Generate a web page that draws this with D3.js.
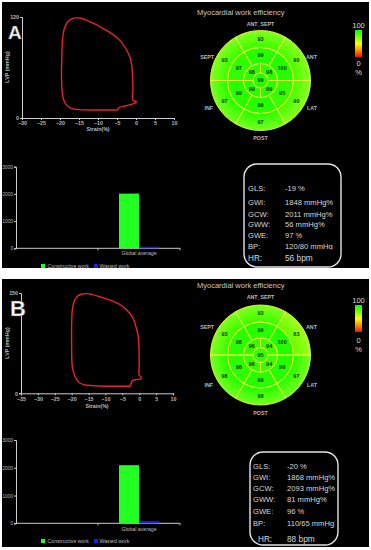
<!DOCTYPE html>
<html><head><meta charset="utf-8">
<script src="https://cdn.jsdelivr.net/npm/d3@7"></script>
<style>body{margin:0;background:#fff}svg{display:block}text{font-family:"Liberation Sans",Arial,sans-serif}</style>
</head><body><svg id="c" width="371" height="550"></svg>
<script>
// ---------- DATA ----------
const strainTicksA = [-30,-25,-20,-15,-10,-5,0,5,10];
const strainTicksB = [-35,-30,-25,-20,-15,-10,-5,0,5,10];
const lvpTicksA = [0,120];
const lvpTicksB = [0,150];
const loopAStrain   = [-4.8,-4.6,-4.2,-2.5,-1,0,0.1,-0.8,-0.8,-0.9,-1.1,-1.6,-2.6,-4,-6,-8.5,-11,-13,-14.5,-15.5,-16.8,-18,-18.8,-19.3,-19.5,-19.6,-19.4,-19,-18.2,-17,-15,-10,-4.8];
const loopAPressure = [9.5,12,13,14.5,16.5,18.5,19.5,21,35,50,62,72,82,91,99,106,112,116,118.5,119,118,114,107,95,75,50,30,21,15,11.5,10,9.5,9.5];
const loopBStrain   = [-2.7,-2.4,-2,-1,0.6,0.5,0,0,-0.1,-0.3,-0.9,-1.8,-3.2,-5.5,-8.5,-11.5,-14,-15.5,-17,-18.3,-19.3,-19.8,-20,-20,-19.9,-19.5,-18.7,-17.5,-15.5,-12,-7,-2.7];
const loopBPressure = [10.5,15,19,20.5,22,25,27,45,70,85,98,112,122,132,139,144,148,149,148.5,145,137,125,105,70,45,32,22,15,12,11,10.5,10.5];

// segments ordered clockwise from top: ANT_SEPT, ANT, LAT, POST, INF, SEPT
const basalA = [93,90,90,97,97,93];
const midA   = [99,100,95,99,99,97];
const apicalA = [98,99,99,98]; // upper-right, lower-right, lower-left, upper-left
const apexA = 99;
const basalB = [93,83,97,98,98,93];
const midB   = [99,100,99,99,98,98];
const apicalB = [94,94,96,96];
const apexB = 95;
const wallLabels = ["ANT_SEPT","ANT","LAT","POST","INF","SEPT"];

const barCategories = ["", "Global average"];
const barSeries = ["Constructive work","Wasted work"];
const constructiveA = 2011, wastedA = 56;
const constructiveB = 2093, wastedB = 81;
const workTicks = [0,1000,2000,3000];

const infoLabels = ["GLS:","GWI:","GCW:","GWW:","GWE:","BP:","HR:"];
const infoA = ["-19 %","1848 mmHg%","2011 mmHg%","56 mmHg%","97 %","120/80 mmHg","56 bpm"];
const infoB = ["-20 %","1868 mmHg%","2093 mmHg%","81 mmHg%","96 %","110/65 mmHg","88 bpm"];

// ---------- DRAW ----------
const svg = d3.select("#c");
const defs = svg.append("defs");
const cbg = defs.append("linearGradient").attr("id","cbar").attr("x1",0).attr("y1",0).attr("x2",0).attr("y2",1);
[["0%","#00ff00"],["35%","#aaff00"],["50%","#ffff00"],["75%","#ff9000"],["100%","#ff1000"]].forEach(s=>cbg.append("stop").attr("offset",s[0]).attr("stop-color",s[1]));
const rg = defs.append("radialGradient").attr("id","rim");
[["0%","#ffff60",0],["70%","#ffff60",0],["100%","#ffff60",0.35]].forEach(s=>rg.append("stop").attr("offset",s[0]).attr("stop-color",s[1]).attr("stop-opacity",s[2]));

const segColor = d3.scaleLinear().domain([0,50,100]).range(["#ff1000","#ffff00","#22ff00"]);
const lightText = "#d8d8d8";

const panels = [
 {id:"A", top:2, bottom:268, letter:"A", letterX:8, letterY:39, letterSize:19,
  loopStrain:loopAStrain, loopPressure:loopAPressure, sTicks:strainTicksA, pTicks:lvpTicksA,
  lx:[22,174], ly:[118,17], xLabelY:131, yLabelY:67,
  basal:basalA, mid:midA, apical:apicalA, apex:apexA, cx:260.5, cy:80.5,
  titleY:12, antSeptY:24, upperY:57, lowerY:108, postY:138,
  cbY:[30,57], c100:25, c0:63, cPct:72,
  bx:[16,180], by:[248.3,166.7], gaY:253, legY:266, cons:constructiveA, wast:wastedA,
  box:[244,164,97,103], labX:248, hrLabX:248, valX:285, rows:[188.3,202.3,214,224.3,235,246.7,258.3], info:infoA, bpClip:249.5},
 {id:"B", top:279, bottom:547, letter:"B", letterX:10, letterY:316, letterSize:22,
  loopStrain:loopBStrain, loopPressure:loopBPressure, sTicks:strainTicksB, pTicks:lvpTicksB,
  lx:[21,173], ly:[393.3,293], xLabelY:408, yLabelY:343,
  basal:basalB, mid:midB, apical:apicalB, apex:apexB, cx:260.5, cy:355,
  titleY:285, antSeptY:297, upperY:327, lowerY:385, postY:413,
  cbY:[305,332], c100:300, c0:340, cPct:349,
  bx:[16,180], by:[523.3,440], gaY:529.5, legY:541, cons:constructiveB, wast:wastedB,
  box:[250,452,88,93], labX:253, hrLabX:258, valX:287, rows:[466,477,488,499,511,523,539], info:infoB, bpClip:null}
];

panels.forEach(p=>{
  defs.append("clipPath").attr("id","clip"+p.id).append("rect").attr("x",2).attr("y",p.top).attr("width",367).attr("height",p.bottom-p.top);
  const g = svg.append("g").attr("clip-path",`url(#clip${p.id})`);
  g.append("rect").attr("x",2).attr("y",p.top).attr("width",367).attr("height",p.bottom-p.top).attr("fill","#000");

  // ---- loop ----
  const x = d3.scaleLinear().domain([p.sTicks[0], p.sTicks[p.sTicks.length-1]]).range(p.lx);
  const y = d3.scaleLinear().domain([0, p.pTicks[1]]).range(p.ly);
  const ax = g.append("g").attr("transform",`translate(0,${p.ly[0]})`).call(d3.axisBottom(x).tickValues(p.sTicks).tickSize(2).tickPadding(1.5));
  const ay = g.append("g").attr("transform",`translate(${p.lx[0]},0)`).call(d3.axisLeft(y).tickValues(p.pTicks).tickSize(2).tickPadding(1));
  [ax,ay].forEach(a=>{a.select(".domain").attr("stroke","#ccc");a.selectAll("line").attr("stroke","#ccc");a.selectAll("text").attr("fill","#bbb").attr("font-size",5.3).attr("font-weight","bold");});
  g.append("text").attr("x",(p.lx[0]+p.lx[1])/2).attr("y",p.xLabelY).attr("text-anchor","middle").attr("fill","#bbb").attr("font-size",5.3).attr("font-weight","bold").text("Strain(%)");
  g.append("text").attr("transform",`translate(9,${p.yLabelY}) rotate(-90)`).attr("text-anchor","middle").attr("fill","#bbb").attr("font-size",5.3).attr("font-weight","bold").text("LVP (mmHg)");
  const pts = p.loopStrain.map((s,i)=>[s,p.loopPressure[i]]);
  g.append("path").attr("d",d3.line().x(d=>x(d[0])).y(d=>y(d[1])).curve(d3.curveCatmullRom.alpha(0.5))(pts))
    .attr("fill","none").attr("stroke","#e3262a").attr("stroke-width",1.4);
  g.append("text").attr("x",p.letterX).attr("y",p.letterY).attr("fill","#fff").attr("stroke","#555").attr("stroke-width",0.6)
    .attr("font-size",p.letterSize).attr("font-weight","bold").text(p.letter);

  // ---- bullseye ----
  const R = [0,7.5,17,33,50];
  const bg = g.append("g").attr("transform",`translate(${p.cx},${p.cy})`);
  const segs = [];
  p.basal.forEach((v,i)=>segs.push({v, r0:R[3], r1:R[4], a0:(i*60-30)*Math.PI/180, a1:(i*60+30)*Math.PI/180}));
  p.mid.forEach((v,i)=>segs.push({v, r0:R[2], r1:R[3], a0:(i*60-30)*Math.PI/180, a1:(i*60+30)*Math.PI/180}));
  p.apical.forEach((v,i)=>segs.push({v, r0:R[1], r1:R[2], a0:(i*90)*Math.PI/180, a1:(i*90+90)*Math.PI/180}));
  segs.push({v:p.apex, r0:0, r1:R[1], a0:0, a1:2*Math.PI});
  const arc = d3.arc().innerRadius(d=>d.r0).outerRadius(d=>d.r1).startAngle(d=>d.a0).endAngle(d=>d.a1);
  bg.selectAll("path.seg").data(segs).join("path").attr("class","seg").attr("d",arc).attr("fill",d=>segColor(d.v));
  bg.append("circle").attr("r",R[4]).attr("fill","url(#rim)");
  bg.selectAll("path.bd").data(segs).join("path").attr("class","bd").attr("d",arc).attr("fill","none").attr("stroke","#e6f542").attr("stroke-width",0.9);
  bg.selectAll("text").data(segs).join("text")
    .attr("x",d=>d.r0===0?0:arc.centroid(d)[0]).attr("y",d=>d.r0===0?0:arc.centroid(d)[1]).attr("dy","0.35em")
    .attr("text-anchor","middle").attr("font-size",5.6).attr("font-weight","bold").attr("fill","#1a3a00").text(d=>d.v);
  g.append("text").attr("x",197).attr("y",p.titleY).attr("dy","0.35em").attr("fill","#c8c8c8").attr("font-size",7.5).text("Myocardial work efficiency");
  const lab = (t,xx,yy,anchor)=>g.append("text").attr("x",xx).attr("y",yy).attr("dy","0.35em").attr("text-anchor",anchor).attr("fill","#bbb").attr("font-size",5.3).attr("font-weight","bold").text(t);
  lab(wallLabels[0],p.cx,p.antSeptY,"middle");
  lab(wallLabels[1],306,p.upperY,"start");
  lab(wallLabels[2],307,p.lowerY,"start");
  lab(wallLabels[3],p.cx,p.postY,"middle");
  lab(wallLabels[4],213,p.lowerY,"end");
  lab(wallLabels[5],214,p.upperY,"end");
  // colorbar
  g.append("rect").attr("x",355).attr("y",p.cbY[0]).attr("width",7).attr("height",p.cbY[1]-p.cbY[0]).attr("fill","url(#cbar)");
  [["100",p.c100],["0",p.c0],["%",p.cPct]].forEach(t=>g.append("text").attr("x",358.5).attr("y",t[1]).attr("dy","0.35em").attr("text-anchor","middle").attr("fill","#ddd").attr("font-size",7.5).text(t[0]));

  // ---- bars ----
  const bx = d3.scaleBand().domain(barCategories).range(p.bx);
  const bs = d3.scaleBand().domain(barSeries).range([0,40]);
  const byS = d3.scaleLinear().domain([0,3000]).range(p.by);
  const gy = g.append("g").attr("transform",`translate(${p.bx[0]},0)`).call(d3.axisLeft(byS).tickValues(workTicks).tickFormat(d3.format("d")).tickSize(2).tickPadding(0.8));
  gy.select(".domain").attr("stroke","#ccc"); gy.selectAll("line").attr("stroke","#ccc");
  gy.selectAll("text").attr("fill","#bbb").attr("font-size",4.9);
  g.append("line").attr("x1",p.bx[0]).attr("x2",p.bx[1]).attr("y1",p.by[0]).attr("y2",p.by[0]).attr("stroke","#ccc");
  [bx.step()+p.bx[0], p.bx[1]].forEach(t=>g.append("line").attr("x1",t).attr("x2",t).attr("y1",p.by[0]).attr("y2",p.by[0]+2).attr("stroke","#ccc"));
  const barVals = [p.cons,p.wast];
  const barCols = ["#22ff22","#1a1aee"];
  const gx0 = bx("Global average")+bx.bandwidth()/2-20;
  g.selectAll("rect.bar").data(barVals).join("rect").attr("class","bar")
    .attr("x",(d,i)=>gx0+bs(barSeries[i])).attr("width",bs.bandwidth())
    .attr("y",d=>byS(d)).attr("height",d=>byS(0)-byS(d)).attr("fill",(d,i)=>barCols[i]);
  g.append("text").attr("x",bx("Global average")+bx.bandwidth()/2).attr("y",p.gaY).attr("dy","0.35em").attr("text-anchor","middle").attr("fill","#bbb").attr("font-size",5.2).text(barCategories[1]);
  [[41,47.5],[94,99.5]].forEach((pos,i)=>{
    g.append("rect").attr("x",pos[0]).attr("y",p.legY-2).attr("width",4).attr("height",4).attr("fill",barCols[i]);
    g.append("text").attr("x",pos[1]).attr("y",p.legY).attr("dy","0.35em").attr("fill","#bbb").attr("font-size",5.2).text(barSeries[i]);
  });

  // ---- info box ----
  const [bxX,bxY,bw,bh] = p.box;
  g.append("rect").attr("x",bxX).attr("y",bxY).attr("width",bw).attr("height",bh).attr("rx",13).attr("fill","none").attr("stroke","#e4e4e4").attr("stroke-width",1.4);
  if(p.bpClip) defs.append("clipPath").attr("id","bp"+p.id).append("rect").attr("x",0).attr("y",0).attr("width",371).attr("height",p.bpClip);
  infoLabels.forEach((l,i)=>{
    const big = i===6;
    const row = g.append("g");
    if(i===5 && p.bpClip) row.attr("clip-path",`url(#bp${p.id})`);
    row.append("text").attr("x",big?p.hrLabX:p.labX).attr("y",p.rows[i]).attr("dy","0.35em").attr("fill",lightText).attr("font-size",big?8.2:7.6).text(l);
    row.append("text").attr("x",p.valX).attr("y",p.rows[i]).attr("dy","0.35em").attr("fill",lightText).attr("font-size",big?8.3:7.6).text(p.info[i]);
  });
});
</script></body></html>
